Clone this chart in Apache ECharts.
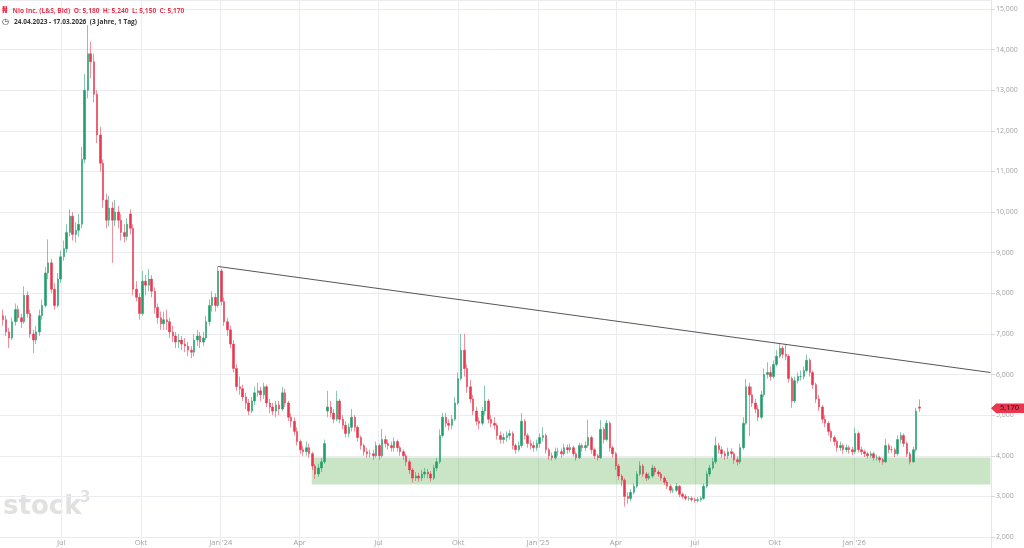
<!DOCTYPE html>
<html>
<head>
<meta charset="utf-8">
<title>Nio Inc. (L&S, Bid)</title>
<script src="https://cdn.jsdelivr.net/npm/echarts@6/dist/echarts.min.js"></script>
<style>
  html, body { margin: 0; padding: 0; background: #fff; }
  #chart { width: 1024px; height: 548px; }
</style>
</head>
<body>
<div id="chart"></div>
<script>
// half-weekly candles (Tue / Fri), EUR
const opens = [
  7.45,7.35,7.05,6.90,7.30,7.60,7.40,7.30,7.95,7.50,
  7.00,6.85,7.05,7.45,7.70,8.50,8.75,8.10,7.70,8.35,
  8.90,9.10,9.50,9.90,9.45,9.55,9.70,11.30,13.00,13.90,
  13.70,12.90,11.90,11.20,10.30,9.80,10.10,9.80,10.00,9.80,
  9.50,9.40,9.95,9.60,8.10,7.90,7.50,8.30,8.20,8.35,
  8.05,7.65,7.40,7.25,7.35,7.30,7.05,6.95,6.80,6.85,
  6.75,6.70,6.60,6.55,6.85,6.95,6.80,6.90,7.30,7.70,
  7.90,7.70,8.55,7.80,7.30,7.10,6.75,6.15,5.70,5.65,
  5.45,5.30,5.10,5.35,5.55,5.60,5.50,5.70,5.30,5.20,
  5.10,5.25,5.15,5.55,5.30,4.95,4.85,4.60,4.35,4.15,
  4.10,4.20,4.05,3.75,3.55,3.70,3.85,5.10,5.20,5.05,
  4.90,5.35,4.90,4.75,4.55,4.70,4.95,4.70,4.45,4.25,
  4.10,4.05,4.05,4.00,4.25,4.00,4.40,4.30,4.25,4.20,
  4.35,4.20,4.10,4.00,3.85,3.65,3.45,3.50,3.45,3.55,
  3.60,3.55,3.45,3.70,3.85,4.50,4.95,4.80,4.75,4.90,
  5.30,5.90,6.60,6.15,5.70,5.40,5.10,4.85,4.80,5.10,
  5.35,4.90,4.80,4.75,4.50,4.40,4.45,4.50,4.55,4.25,
  4.15,4.25,4.85,4.50,4.30,4.25,4.20,4.30,4.45,4.50,
  4.15,4.00,3.95,4.10,4.10,4.05,4.20,4.15,4.20,4.05,
  3.95,4.25,4.20,4.25,4.45,4.15,4.00,3.95,4.65,4.40,
  4.80,4.20,4.05,3.75,3.50,3.40,3.00,2.95,3.10,3.25,
  3.55,3.75,3.55,3.45,3.50,3.70,3.60,3.55,3.45,3.35,
  3.25,3.15,3.15,3.25,3.05,3.00,2.95,2.95,2.92,2.90,
  2.92,2.95,3.25,3.55,3.70,3.85,4.25,4.15,4.05,4.00,
  4.10,4.05,3.90,3.85,4.20,4.80,5.70,5.50,5.30,5.15,
  4.95,5.50,6.00,6.05,5.95,6.25,6.45,6.65,6.50,6.45,
  5.90,5.35,5.85,5.95,5.95,6.10,6.35,6.05,5.75,5.40,
  5.20,4.90,4.80,4.60,4.45,4.35,4.20,4.25,4.15,4.20,
  4.15,4.10,4.55,4.15,4.10,4.05,4.00,4.05,3.95,3.95,
  3.90,3.85,4.25,4.15,4.15,4.05,4.40,4.50,4.30,4.05,
  3.85,4.15,5.20
]
const closes = [
  7.35,7.05,6.90,7.30,7.60,7.40,7.30,7.95,7.50,7.00,
  6.85,7.05,7.45,7.70,8.50,8.75,8.10,7.70,8.35,8.90,
  9.10,9.50,9.90,9.45,9.55,9.70,11.30,13.00,13.90,13.70,
  12.90,11.90,11.20,10.30,9.80,10.10,9.80,10.00,9.80,9.50,
  9.40,9.70,9.60,8.10,7.90,7.50,8.30,8.20,8.35,8.05,
  7.65,7.40,7.25,7.35,7.30,7.05,6.95,6.80,6.85,6.75,
  6.70,6.60,6.55,6.85,6.95,6.80,6.90,7.30,7.70,7.90,
  7.70,8.55,7.80,7.30,7.10,6.75,6.15,5.70,5.65,5.45,
  5.30,5.10,5.35,5.55,5.60,5.50,5.70,5.30,5.20,5.10,
  5.25,5.15,5.55,5.30,4.95,4.85,4.60,4.35,4.15,4.10,
  4.20,4.05,3.75,3.55,3.70,3.85,4.30,5.20,5.05,4.90,
  5.35,4.90,4.75,4.55,4.70,4.95,4.70,4.45,4.25,4.10,
  4.05,4.05,4.00,4.25,4.00,4.40,4.30,4.25,4.20,4.35,
  4.20,4.10,4.00,3.85,3.65,3.45,3.50,3.45,3.55,3.60,
  3.55,3.45,3.70,3.85,4.50,4.95,4.80,4.75,4.90,5.30,
  5.90,6.60,6.15,5.70,5.40,5.10,4.85,4.80,5.10,5.35,
  4.90,4.80,4.75,4.50,4.40,4.45,4.50,4.55,4.25,4.15,
  4.25,4.85,4.50,4.30,4.25,4.20,4.30,4.45,4.50,4.15,
  4.00,3.95,4.10,4.10,4.05,4.20,4.15,4.20,4.05,3.95,
  4.25,4.20,4.25,4.45,4.15,4.00,3.95,4.65,4.40,4.80,
  4.20,4.05,3.75,3.50,3.40,3.00,2.95,3.10,3.25,3.55,
  3.75,3.55,3.45,3.50,3.70,3.60,3.55,3.45,3.35,3.25,
  3.15,3.15,3.25,3.05,3.00,2.95,2.95,2.92,2.90,2.92,
  2.95,3.25,3.55,3.70,3.85,4.25,4.15,4.05,4.00,4.10,
  4.05,3.90,3.85,4.20,4.80,5.70,5.50,5.30,5.15,4.95,
  5.50,6.00,6.05,5.95,6.25,6.45,6.65,6.50,6.45,5.90,
  5.35,5.85,5.95,5.95,6.10,6.35,6.05,5.75,5.40,5.20,
  4.90,4.80,4.60,4.45,4.35,4.20,4.25,4.15,4.20,4.15,
  4.10,4.55,4.15,4.10,4.05,4.00,4.05,3.95,3.95,3.90,
  3.85,4.25,4.15,4.15,4.05,4.40,4.50,4.30,4.05,3.85,
  4.15,5.10,5.17
]
const lows = [
  7.20,6.95,6.65,6.85,7.20,7.30,7.15,7.25,7.40,6.90,
  6.53,6.75,6.95,7.35,7.65,8.35,8.00,7.60,7.65,8.25,
  8.80,9.00,9.40,9.30,9.25,9.40,9.60,11.20,12.80,13.30,
  12.70,11.70,11.00,10.10,9.60,9.65,8.75,9.65,9.60,9.30,
  9.25,9.30,9.45,7.95,7.80,7.35,7.45,7.95,8.05,7.90,
  7.50,7.25,7.10,7.10,7.10,6.90,6.80,6.65,6.65,6.60,
  6.55,6.45,6.40,6.45,6.70,6.65,6.70,6.85,7.20,7.55,
  7.55,7.65,7.70,7.20,6.95,6.65,6.05,5.60,5.50,5.35,
  5.15,5.00,5.05,5.25,5.45,5.35,5.40,5.20,5.05,5.00,
  4.95,5.00,5.10,5.20,4.85,4.70,4.50,4.25,4.05,4.00,
  4.00,3.95,3.65,3.43,3.48,3.60,3.80,4.95,4.95,4.80,
  4.85,4.80,4.65,4.45,4.45,4.60,4.60,4.35,4.15,4.00,
  3.95,3.95,3.90,3.95,3.90,3.95,4.20,4.15,4.10,4.10,
  4.10,4.00,3.90,3.75,3.55,3.34,3.38,3.36,3.38,3.45,
  3.45,3.36,3.40,3.62,3.80,4.45,4.70,4.62,4.65,4.85,
  5.25,5.85,5.95,5.55,5.30,5.00,4.75,4.65,4.75,5.00,
  4.80,4.70,4.65,4.40,4.30,4.30,4.35,4.40,4.15,4.05,
  4.10,4.20,4.40,4.20,4.15,4.10,4.12,4.20,4.35,4.05,
  3.90,3.88,3.90,4.00,3.95,4.00,4.05,4.08,3.98,3.88,
  3.92,4.10,4.12,4.20,4.05,3.92,3.88,3.92,4.30,4.35,
  4.10,3.95,3.65,3.40,3.25,2.75,2.82,2.88,3.05,3.20,
  3.50,3.48,3.38,3.40,3.45,3.52,3.48,3.38,3.28,3.18,
  3.08,3.08,3.10,2.98,2.94,2.90,2.89,2.87,2.85,2.85,
  2.87,2.92,3.20,3.48,3.65,3.80,4.05,3.95,3.90,3.92,
  3.95,3.80,3.76,3.80,4.15,4.75,4.48,5.20,5.05,4.85,
  4.90,5.45,5.90,5.85,5.90,6.20,6.40,6.40,6.35,5.80,
  5.18,5.30,5.78,5.85,5.88,6.05,5.95,5.65,5.30,5.10,
  4.80,4.70,4.50,4.35,4.25,4.10,4.12,4.05,4.08,4.05,
  4.02,4.05,4.08,4.02,3.97,3.93,3.94,3.88,3.88,3.83,
  3.78,3.82,4.06,4.06,3.97,4.00,4.30,4.22,3.97,3.79,
  3.82,4.10,5.08
]
const highs = [
  7.60,7.45,7.15,7.40,7.75,7.70,7.50,8.17,8.05,7.60,
  7.10,7.20,7.60,7.85,8.65,9.33,8.85,8.25,8.50,9.05,
  9.30,9.70,10.07,10.00,9.75,9.95,11.60,13.40,14.60,14.20,
  13.90,13.00,12.10,11.30,10.45,10.40,10.25,10.30,10.15,9.95,
  9.70,9.85,10.07,9.70,8.30,8.00,8.55,8.45,8.60,8.45,
  8.15,7.75,7.55,7.55,7.60,7.40,7.20,7.05,7.00,6.95,
  6.90,6.80,6.70,7.00,7.10,7.05,7.05,7.45,7.85,8.05,
  8.00,8.66,8.60,7.90,7.40,7.20,6.85,6.25,5.95,5.75,
  5.55,5.40,5.45,5.70,5.80,5.70,5.80,5.75,5.40,5.30,
  5.35,5.35,5.70,5.65,5.35,5.05,4.95,4.70,4.40,4.25,
  4.35,4.30,4.10,3.80,3.80,3.95,4.40,5.60,5.35,5.15,
  5.60,5.40,5.00,4.85,4.80,5.15,5.00,4.75,4.50,4.30,
  4.20,4.15,4.15,4.35,4.30,4.66,4.50,4.40,4.35,4.45,
  4.40,4.25,4.15,4.05,3.90,3.70,3.60,3.58,3.65,3.70,
  3.68,3.62,3.78,3.95,4.65,5.05,5.05,4.90,5.00,5.45,
  6.05,7.00,7.00,6.25,5.87,5.50,5.20,4.95,5.20,5.73,
  5.40,5.00,4.95,4.80,4.60,4.55,4.60,4.64,4.60,4.30,
  4.35,5.05,4.90,4.55,4.40,4.35,4.40,4.55,4.70,4.55,
  4.20,4.08,4.20,4.20,4.18,4.30,4.28,4.30,4.25,4.10,
  4.32,4.30,4.35,4.89,4.50,4.20,4.05,4.88,4.70,4.88,
  4.85,4.25,4.10,3.80,3.55,3.45,3.10,3.18,3.32,3.62,
  3.86,3.80,3.60,3.58,3.78,3.75,3.65,3.60,3.50,3.40,
  3.30,3.22,3.33,3.28,3.10,3.05,3.01,3.00,2.97,2.98,
  3.00,3.32,3.62,3.78,3.95,4.47,4.32,4.22,4.12,4.20,
  4.18,4.10,3.98,4.30,4.95,5.89,5.80,5.70,5.40,5.25,
  5.60,6.15,6.30,6.20,6.35,6.60,6.78,6.70,6.76,6.50,
  5.95,5.95,6.05,6.10,6.20,6.49,6.40,6.10,5.80,5.50,
  5.25,5.00,4.85,4.65,4.50,4.40,4.35,4.30,4.28,4.25,
  4.22,4.69,4.60,4.22,4.15,4.10,4.12,4.10,4.03,4.00,
  3.95,4.42,4.30,4.24,4.20,4.50,4.58,4.55,4.35,4.10,
  4.22,5.18,5.39
]

// quote of the last trading day: open, high, low, close
const lastDay = [5.18, 5.24, 5.15, 5.17]

// resistance line and support zone (date, price)
const trendLine = [['2023-12-29', 8.66], ['2026-06-07', 6.05]]
const supportZone = [['2024-04-15', 3.29], ['2026-06-07', 3.96]]

// x axis ticks (quarter starts) and German month names
const monthTicks = ['2023-07-01', '2023-10-01', '2024-01-01', '2024-04-01', '2024-07-01', '2024-10-01',
  '2025-01-01', '2025-04-01', '2025-07-01', '2025-10-01', '2026-01-01']
const monthNames = ['Jan', 'Feb', 'Mär', 'Apr', 'Mai', 'Jun', 'Jul', 'Aug', 'Sep', 'Okt', 'Nov', 'Dez']

const UP = '#1f9d6a'
const DOWN = '#e8374f'
const GRID = '#ebebf0'
const DAY = 86400000

const toTime = s => {
  const p = s.split('-').map(Number)
  return new Date(p[0], p[1] - 1, p[2]).getTime()
}

// two candles a week, Tuesday and Friday, starting 25.04.2023
const candleDates = []
for (let i = 0; i < closes.length; i++) {
  candleDates.push(new Date(2023, 3, 25 + Math.floor(i / 2) * 7 + (i % 2) * 3).getTime())
}
const candles = candleDates.map((d, i) => [d, opens[i], closes[i], lows[i], highs[i]])
const tickTimes = monthTicks.map(toTime)

const axisStart = new Date(2023, 3, 21, 8).getTime()
const axisEnd = new Date(2026, 5, 7, 16).getTime()
const fmt = v => v.toFixed(3).replace('.', ',')

const chart = echarts.init(document.getElementById('chart'))
chart.setOption({
  animation: false,
  title: [{
    left: 2, top: 2, padding: 0,
    text: '{ic|₦} {t|Nio Inc. (L&S, Bid)  O: ' + fmt(lastDay[0]) + '  H: ' + fmt(lastDay[1]) +
      '  L: ' + fmt(lastDay[2]) + '  C: ' + fmt(lastDay[3]) + '}',
    textStyle: {
      rich: {
        ic: { color: DOWN, fontSize: 8, fontWeight: 'bold', fontFamily: 'DejaVu Sans' },
        t: { color: DOWN, fontSize: 6.6, fontFamily: 'Open Sans' }
      }
    }
  }, {
    left: 2, top: 13, padding: 0,
    text: '{ic|◷} {t|24.04.2023 - 17.03.2026  (3 Jahre, 1 Tag)}',
    textStyle: {
      rich: {
        ic: { color: '#333', fontSize: 8, fontFamily: 'DejaVu Sans' },
        t: { color: '#333', fontSize: 6.5, fontFamily: 'Open Sans' }
      }
    }
  }],
  graphic: [{
    type: 'text', left: 3, top: 494, silent: true,
    style: { text: 'stock', font: 'bold 26px "DejaVu Sans"', fill: '#e1e1e1' }
  }, {
    type: 'text', left: 80, top: 491, silent: true,
    style: { text: '3', font: 'bold 15px "DejaVu Sans"', fill: '#e1e1e1' }
  }],
  // plot runs to the bottom edge; the 2,000 grid line acts as the base line
  grid: { left: 0, right: 33, top: 0, bottom: 0 },
  xAxis: {
    type: 'time',
    min: axisStart,
    max: axisEnd,
    splitNumber: 12,
    minInterval: 80 * DAY,
    maxInterval: 100 * DAY,
    axisLine: { show: false },
    axisTick: { show: false },
    axisLabel: {
      inside: true, margin: 1,
      color: '#a3a3a3', fontSize: 7.5, fontFamily: 'Open Sans',
      hideOverlap: false,
      formatter: value => {
        if (tickTimes.indexOf(value) < 0) return ''
        const d = new Date(value)
        const m = d.getMonth()
        return m === 0 ? "Jan '" + String(d.getFullYear()).slice(2) : monthNames[m]
      }
    },
    splitLine: { show: false }
  },
  yAxis: {
    type: 'value',
    position: 'right',
    min: 1.729,
    max: 15.222,
    splitNumber: 14,
    minInterval: 1,
    maxInterval: 1,
    axisLine: { show: true, lineStyle: { color: '#e4e4ea' } },
    axisTick: { show: true, length: 4, lineStyle: { color: '#d8d8de' } },
    axisLabel: {
      color: '#a3a3a3', fontSize: 7, fontFamily: 'Open Sans', margin: 5,
      showMinLabel: false, showMaxLabel: false,
      formatter: v => Math.abs(v - Math.round(v)) < 1e-6 ? fmt(v) : ''
    },
    splitLine: { lineStyle: { color: GRID } }
  },
  series: [{
    // vertical grid lines at the quarter starts
    type: 'line',
    data: [],
    z: 0,
    markLine: {
      z: 0,
      silent: true,
      symbol: ['none', 'none'],
      label: { show: false },
      lineStyle: { color: GRID, width: 1, type: 'solid' },
      data: tickTimes.map(t => ({ xAxis: t }))
    }
  }, {
    // support zone, above the grid and below the candles
    type: 'line',
    data: [],
    z: 1,
    markArea: {
      z: 1,
      silent: true,
      itemStyle: { color: 'rgba(75,170,65,0.3)' },
      data: [[{ coord: supportZone[0] }, { coord: supportZone[1] }]]
    }
  }, {
    type: 'candlestick',
    data: candles,
    z: 3,
    encode: { x: 0, y: [1, 2, 3, 4] },
    barWidth: 2,
    itemStyle: {
      color: UP,
      color0: DOWN,
      borderColor: 'rgba(31,157,106,0.55)',
      borderColor0: 'rgba(232,55,79,0.55)',
      borderWidth: 1
    },
    markLine: {
      z: 5,
      silent: true,
      symbol: ['none', 'none'],
      label: { show: false },
      lineStyle: { color: '#555', width: 1, type: 'solid' },
      data: [[{ coord: trendLine[0] }, { coord: trendLine[1] }]]
    },
    markPoint: {
      z: 6,
      silent: true,
      symbol: 'path://M0,5 L5,0 L33,0 L33,10 L5,10 Z',
      symbolSize: [33, 9.5],
      symbolOffset: [16.5, 0],
      symbolKeepAspect: false,
      itemStyle: { color: DOWN },
      label: {
        show: true, position: 'inside', offset: [2, 0],
        color: '#2a0a10', fontSize: 7.5, fontFamily: 'Open Sans',
        formatter: p => fmt(p.value)
      },
      data: [{ coord: [axisEnd, lastDay[3]], value: lastDay[3] }]
    }
  }]
})
</script>
</body>
</html>
